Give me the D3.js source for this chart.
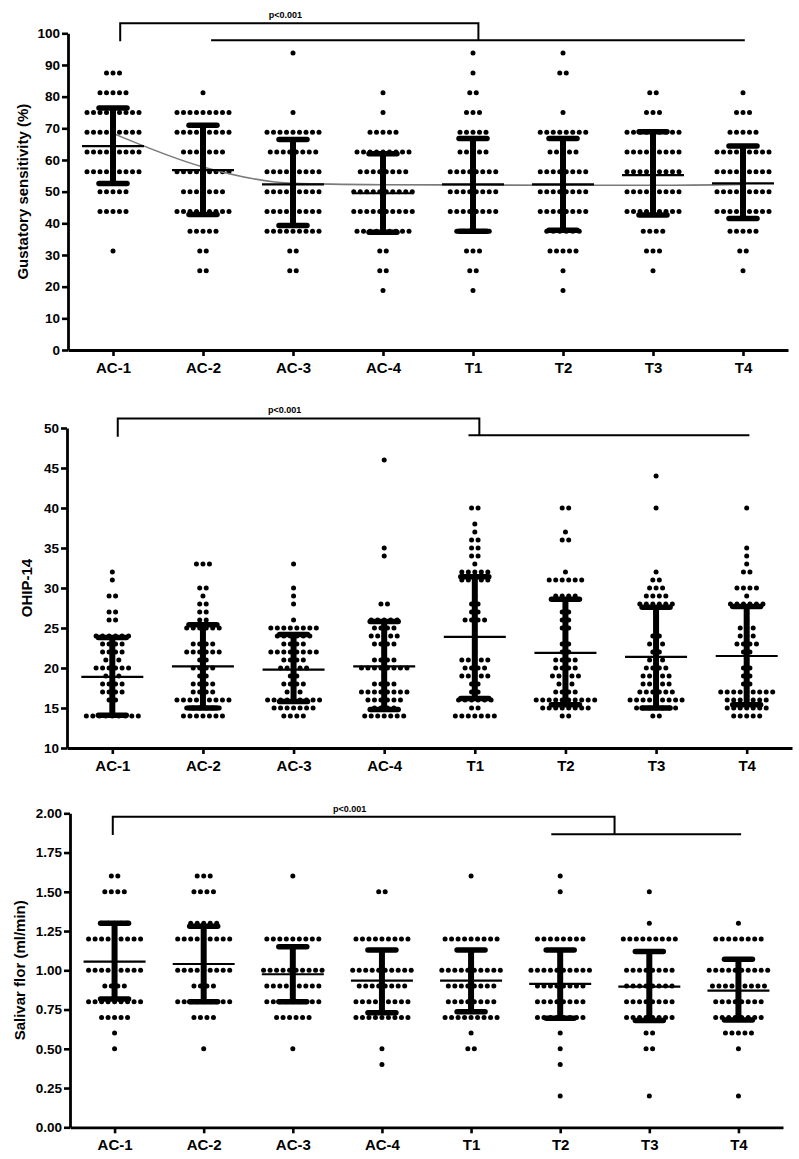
<!DOCTYPE html>
<html>
<head>
<meta charset="utf-8">
<script src="https://cdn.jsdelivr.net/npm/d3@7"></script>
<style>
  body { margin: 0; background: #fff; }
  text { font-family: "Liberation Sans", Arial, sans-serif; font-weight: bold; fill: #000; }
</style>
</head>
<body>
<div id="wrapper"></div>
<script>
const categories = ["AC-1", "AC-2", "AC-3", "AC-4", "T1", "T2", "T3", "T4"];
const pLabel = "p<0.001";

// Gustatory sensitivity (%) - each group: [value, number of dots in that row]
const gustatoryDots = [
    [[87.5,3],[81.25,5],[75,9],[68.75,9],[62.5,9],[56.25,9],[50,5],[43.75,5],[31.25,1]],
    [[81.25,1],[75,9],[68.75,9],[62.5,7],[56.25,9],[50,7],[43.75,9],[37.5,5],[31.25,2],[25,2]],
    [[93.75,1],[75,1],[68.75,9],[62.5,8],[56.25,9],[50,9],[43.75,9],[37.5,9],[31.25,2],[25,2]],
    [[81.25,1],[75,1],[68.75,5],[62.5,9],[56.25,8],[50,10],[43.75,10],[37.5,9],[31.25,2],[25,2],[18.75,1]],
    [[93.75,1],[87.5,1],[81.25,2],[75,3],[68.75,5],[62.5,5],[56.25,8],[50,8],[43.75,8],[37.5,6],[31.25,3],[25,2],[18.75,1]],
    [[93.75,1],[87.5,2],[75,1],[68.75,8],[62.5,5],[56.25,8],[50,8],[43.75,8],[37.5,6],[31.25,5],[25,1],[18.75,1]],
    [[81.25,2],[75,3],[68.75,9],[62.5,9],[56.25,9],[50,9],[43.75,9],[37.5,4],[31.25,3],[25,1]],
    [[81.25,1],[75,3],[68.75,5],[62.5,9],[56.25,9],[50,9],[43.75,9],[37.5,5],[31.25,2],[25,1]]
];
const gustatoryMean = [64.4, 56.8, 52.3, 49.5, 52.3, 52.3, 55.2, 52.6];
const gustatorySdHigh = [76.4, 71.0, 66.5, 62.0, 66.8, 66.8, 68.9, 64.4];
const gustatorySdLow = [52.6, 42.8, 39.3, 37.2, 37.5, 37.8, 42.6, 41.5];
const gustatoryTrend = [68.4, 57.8, 52.6, 52.2, 52.1, 52.0, 52.0, 52.3];
const gustatoryTicks = [0, 10, 20, 30, 40, 50, 60, 70, 80, 90, 100];

// OHIP-14
const ohipDots = [
    [[32,1],[31,1],[29,2],[27,2],[26,2],[24,6],[23,4],[22,4],[21,3],[20,6],[19,3],[18,4],[17,4],[16,2],[15,1],[14,9]],
    [[33,3],[30,2],[29,1],[28,2],[27,2],[26,2],[25,6],[23,4],[22,6],[21,2],[20,4],[19,2],[18,4],[17,4],[16,9],[15,6],[14,7]],
    [[33,1],[30,1],[29,1],[28,1],[26,1],[25,8],[24,6],[23,4],[22,8],[21,4],[20,5],[19,2],[18,4],[17,3],[16,9],[15,7],[14,4]],
    [[46,1],[35,1],[34,1],[28,2],[26,5],[25,4],[24,5],[23,4],[22,1],[21,4],[20,8],[19,1],[18,4],[17,8],[16,6],[15,4],[14,7]],
    [[40,2],[38,1],[37,1],[36,2],[35,2],[34,2],[33,1],[32,5],[31,5],[29,1],[28,2],[27,2],[26,4],[22,1],[21,5],[20,4],[19,5],[18,2],[17,2],[16,6],[15,2],[14,7]],
    [[40,2],[37,1],[36,2],[32,1],[31,6],[29,4],[27,2],[26,2],[25,2],[23,2],[22,2],[21,4],[20,4],[19,5],[18,3],[17,4],[16,10],[15,8],[14,2]],
    [[44,1],[40,1],[32,1],[31,2],[30,3],[29,4],[28,6],[27,1],[24,2],[23,3],[22,2],[21,3],[20,4],[19,5],[18,5],[17,6],[16,9],[15,7],[14,2]],
    [[40,1],[35,1],[34,1],[33,1],[32,2],[30,4],[29,1],[28,6],[26,1],[25,3],[24,3],[23,4],[22,2],[21,1],[20,2],[19,2],[18,2],[17,9],[16,7],[15,7],[14,5]]
];
const ohipMean = [18.9, 20.2, 19.8, 20.2, 23.9, 21.9, 21.4, 21.5];
const ohipSdHigh = [23.8, 25.4, 24.2, 25.8, 31.4, 28.6, 27.6, 27.7];
const ohipSdLow = [14.1, 15.0, 15.8, 14.8, 16.2, 15.4, 15.0, 15.4];
const ohipTicks = [10, 15, 20, 25, 30, 35, 40, 45, 50];

// Salivary flow (ml/min)
const salivaDots = [
    [[1.6,2],[1.5,4],[1.3,5],[1.2,9],[1.0,9],[0.9,4],[0.8,9],[0.7,5],[0.6,1],[0.5,1]],
    [[1.6,3],[1.5,4],[1.3,5],[1.2,9],[1.0,9],[0.9,4],[0.8,9],[0.7,4],[0.5,1]],
    [[1.6,1],[1.2,9],[1.0,10],[0.9,9],[0.8,9],[0.7,6],[0.5,1]],
    [[1.5,2],[1.2,9],[1.0,10],[0.9,8],[0.8,9],[0.7,9],[0.5,1],[0.4,1]],
    [[1.6,1],[1.2,9],[1.0,10],[0.9,8],[0.8,8],[0.7,9],[0.6,1],[0.5,2]],
    [[1.6,1],[1.5,1],[1.2,8],[1.0,10],[0.9,8],[0.8,8],[0.7,8],[0.6,1],[0.5,1],[0.4,1],[0.2,1]],
    [[1.5,1],[1.3,1],[1.2,9],[1.0,8],[0.9,8],[0.8,8],[0.7,8],[0.6,2],[0.5,2],[0.2,1]],
    [[1.3,1],[1.2,8],[1.0,10],[0.9,9],[0.8,8],[0.7,8],[0.6,5],[0.5,1],[0.2,1]]
];
const salivaMean = [1.055, 1.04, 0.975, 0.934, 0.934, 0.913, 0.896, 0.87];
const salivaSdHigh = [1.30, 1.28, 1.15, 1.13, 1.13, 1.13, 1.12, 1.07];
const salivaSdLow = [0.817, 0.80, 0.80, 0.73, 0.736, 0.694, 0.68, 0.683];
const salivaTicks = [0, 0.25, 0.5, 0.75, 1.0, 1.25, 1.5, 1.75, 2.0];

// layout of the three panels (pixels); bracket x in category-index units
const panels = [
    {
        title: "Gustatory sensitivity (%)", dots: gustatoryDots, mean: gustatoryMean,
        high: gustatorySdHigh, low: gustatorySdLow, trend: gustatoryTrend,
        ticks: gustatoryTicks, format: d3.format("d"), domain: [0, 100],
        xRange: [68, 788], yRange: [350, 33.3], titleX: 23,
        bracket: { a: 0.08, b: 4.06, c: 1.09, d: 7.02, top: 103.2, leg: 97.5, line: 97.8 }
    },
    {
        title: "OHIP-14", dots: ohipDots, mean: ohipMean,
        high: ohipSdHigh, low: ohipSdLow, trend: null,
        ticks: ohipTicks, format: d3.format("d"), domain: [10, 50],
        xRange: [67, 792], yRange: [748, 428], titleX: 27,
        bracket: { a: 0.06, b: 4.05, c: 3.93, d: 7.03, top: 51.2, leg: 48.9, line: 49.1 }
    },
    {
        title: "Salivar flor (ml/min)", dots: salivaDots, mean: salivaMean,
        high: salivaSdHigh, low: salivaSdLow, trend: null,
        ticks: salivaTicks, format: d3.format(".2f"), domain: [0, 2],
        xRange: [70, 783], yRange: [1127.3, 813.3], titleX: 20,
        bracket: { a: -0.02, b: 5.61, c: 4.90, d: 7.03, top: 1.978, leg: 1.862, line: 1.866 }
    }
];

const dotGap = 6.5;
const dotRadius = 2.5;

const svg = d3.select("#wrapper")
    .append("svg")
    .attr("width", 799)
    .attr("height", 1159);

function drawPanel(p) {
    const g = svg.append("g");

    const xScale = d3.scalePoint()
        .domain(categories)
        .range(p.xRange)
        .padding(0.5);

    const yScale = d3.scaleLinear()
        .domain(p.domain)
        .range(p.yRange);

    const step = xScale.step();
    const xIndex = i => xScale(categories[0]) + i * step;

    // scatter dots, one row per value, centred on the column
    const points = [];
    p.dots.forEach((rows, gi) => {
        rows.forEach(([v, n]) => {
            for (let k = 0; k < n; k++) {
                points.push({ cat: categories[gi], value: v, off: (k - (n - 1) / 2) * dotGap });
            }
        });
    });

    g.selectAll(".dot")
        .data(points)
        .join("circle")
        .attr("class", "dot")
        .attr("cx", d => xScale(d.cat) + d.off)
        .attr("cy", d => yScale(d.value))
        .attr("r", dotRadius)
        .attr("fill", "#000");

    // grey trend line through the means
    if (p.trend) {
        const trendLine = d3.line()
            .x((d, i) => xScale(categories[i]))
            .y(d => yScale(d))
            .curve(d3.curveMonotoneX);
        g.append("path")
            .datum(p.trend)
            .attr("d", trendLine)
            .attr("fill", "none")
            .attr("stroke", "#7a7a7a")
            .attr("stroke-width", 1.6);
    }

    // mean and SD bars
    const bars = g.selectAll(".bar")
        .data(categories)
        .join("g")
        .attr("class", "bar");

    bars.append("line")
        .attr("x1", d => xScale(d)).attr("x2", d => xScale(d))
        .attr("y1", (d, i) => yScale(p.low[i]))
        .attr("y2", (d, i) => yScale(p.high[i]))
        .attr("stroke", "#000").attr("stroke-width", 6);

    ["high", "low"].forEach(key => {
        bars.append("line")
            .attr("x1", d => xScale(d) - 14).attr("x2", d => xScale(d) + 14)
            .attr("y1", (d, i) => yScale(p[key][i]))
            .attr("y2", (d, i) => yScale(p[key][i]))
            .attr("stroke", "#000").attr("stroke-width", 5.5)
            .attr("stroke-linecap", "round");
    });

    bars.append("line")
        .attr("x1", d => xScale(d) - 31).attr("x2", d => xScale(d) + 31)
        .attr("y1", (d, i) => yScale(p.mean[i]))
        .attr("y2", (d, i) => yScale(p.mean[i]))
        .attr("stroke", "#000").attr("stroke-width", 2.2);

    // axes
    const yAxis = g.append("g")
        .attr("transform", `translate(${p.xRange[0]},0)`)
        .call(d3.axisLeft(yScale).tickValues(p.ticks).tickFormat(p.format)
            .tickSize(6).tickSizeOuter(0).tickPadding(2));

    const xAxis = g.append("g")
        .attr("transform", `translate(0,${p.yRange[0]})`)
        .call(d3.axisBottom(xScale).tickSize(6).tickSizeOuter(0).tickPadding(6));

    [yAxis, xAxis].forEach(ax => {
        ax.select(".domain").attr("stroke", "#000").attr("stroke-width", 2.8);
        ax.selectAll(".tick line").attr("stroke", "#000").attr("stroke-width", 2.6);
        ax.attr("font-family", null).attr("font-size", null);
    });
    yAxis.selectAll(".tick text").attr("font-size", "13.5px");
    xAxis.selectAll(".tick text").attr("font-size", "15px");

    // axis title
    const midY = (p.yRange[0] + p.yRange[1]) / 2;
    g.append("text")
        .attr("transform", `translate(${p.titleX},${midY}) rotate(-90)`)
        .attr("text-anchor", "middle")
        .attr("dy", "0.35em")
        .attr("font-size", "15px")
        .text(p.title);

    // significance bracket
    const b = p.bracket;
    g.append("path")
        .attr("d", `M${xIndex(b.a)},${yScale(b.leg)} V${yScale(b.top)} H${xIndex(b.b)} V${yScale(b.line)}`)
        .attr("fill", "none").attr("stroke", "#000").attr("stroke-width", 2);
    g.append("line")
        .attr("x1", xIndex(b.c)).attr("x2", xIndex(b.d))
        .attr("y1", yScale(b.line)).attr("y2", yScale(b.line))
        .attr("stroke", "#000").attr("stroke-width", 2);
    g.append("text")
        .attr("x", (xIndex(b.a) + xIndex(b.b)) / 2 - 14)
        .attr("y", yScale(b.top) - 5)
        .attr("text-anchor", "middle")
        .attr("font-size", "9px")
        .text(pLabel);
}

panels.forEach(drawPanel);
</script>
</body>
</html>
